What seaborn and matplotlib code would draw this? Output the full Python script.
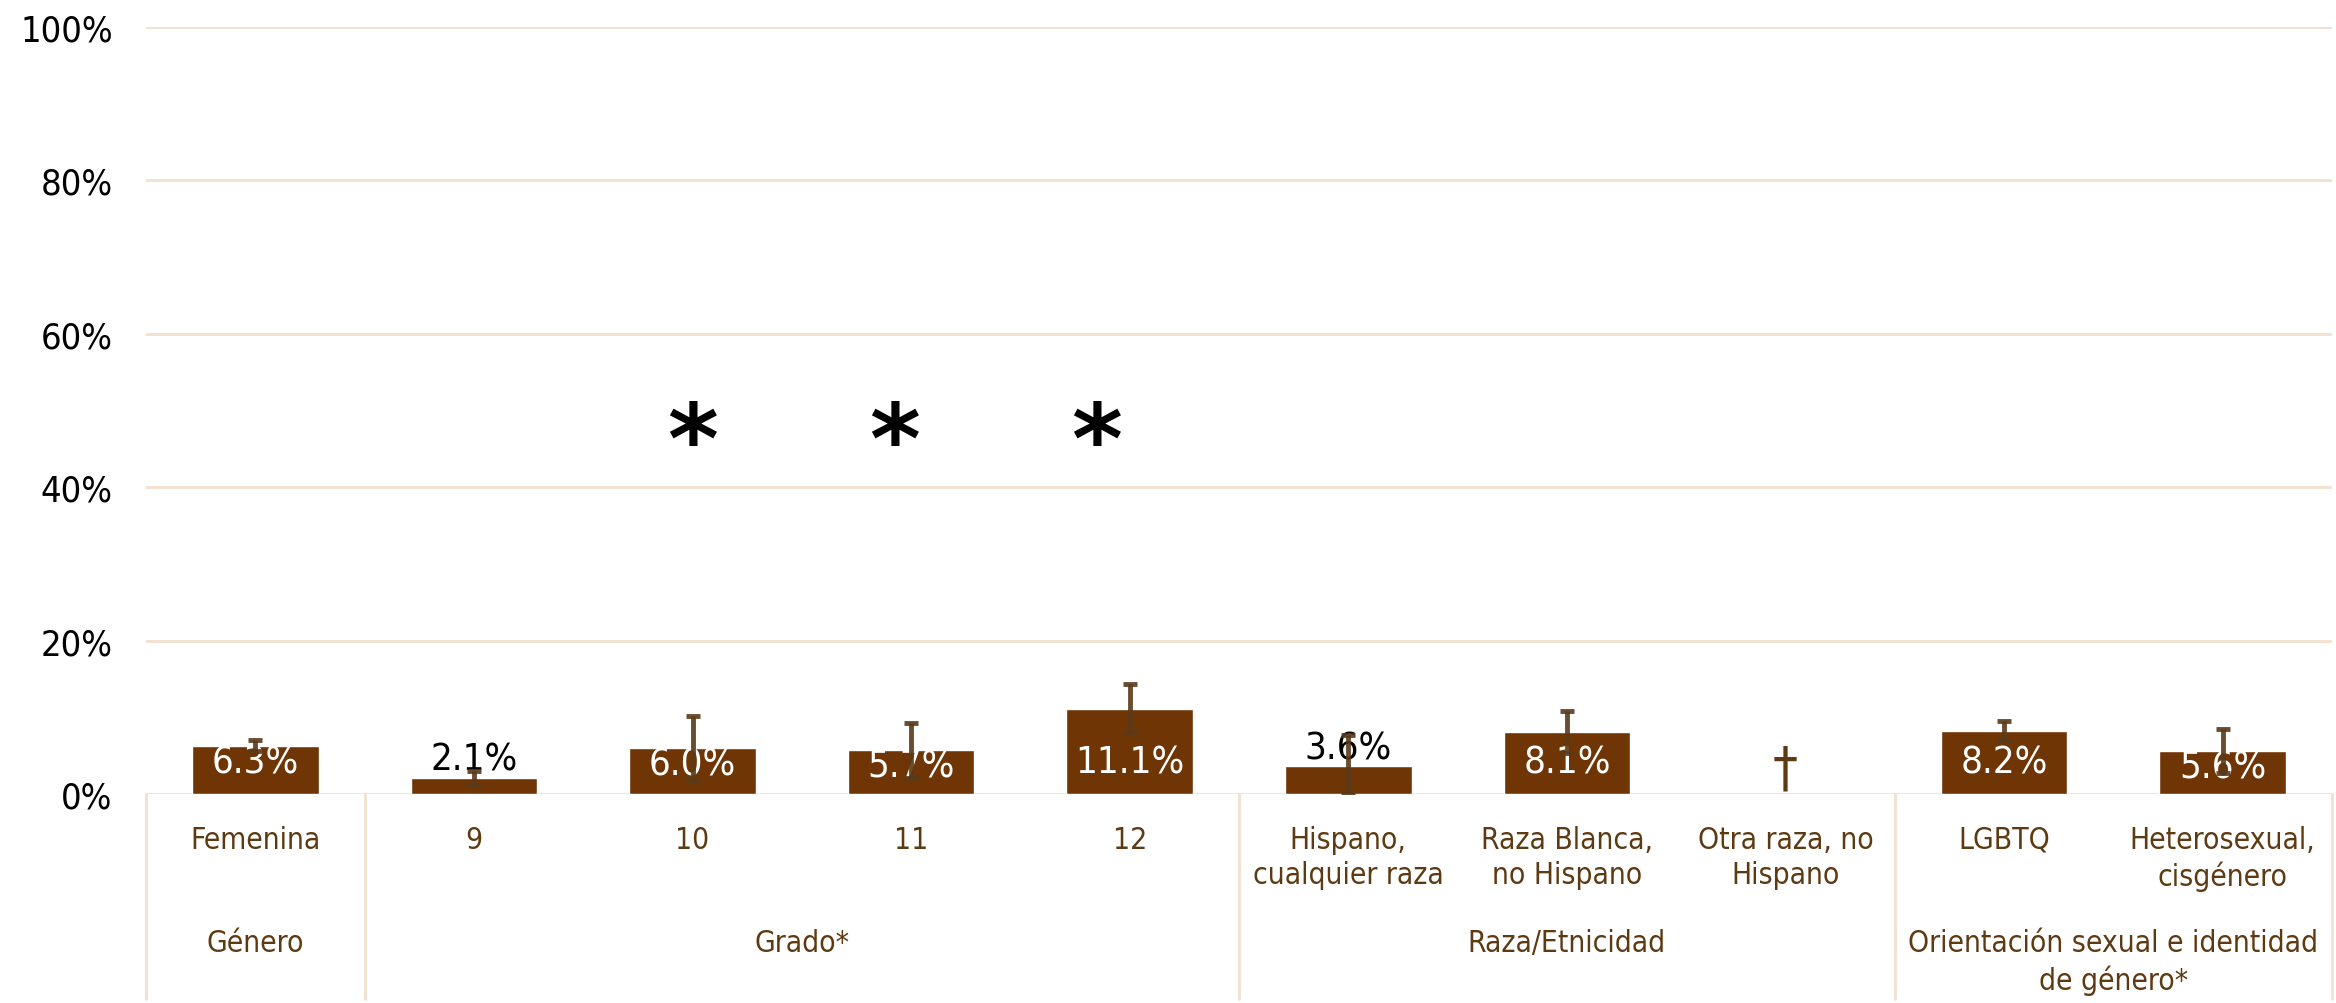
import pandas as pd
import seaborn as sns
import matplotlib
matplotlib.use('Agg')
import matplotlib.pyplot as plt
import matplotlib.transforms as mtransforms
import numpy as np

# data
categories = ['Femenina', '9', '10', '11', '12',
              'Hispano,\ncualquier raza', 'Raza Blanca,\nno Hispano', 'Otra raza, no\nHispano',
              'LGBTQ', 'Heterosexual,\ncisgénero']
values = [6.3, 2.1, 6.0, 5.7, 11.1, 3.6, 8.1, np.nan, 8.2, 5.6]
ci_low = [5.6, 1.2, 1.8, 2.1, 7.9, 0.0, 5.4, np.nan, 6.9, 2.7]
ci_high = [7.0, 3.0, 10.2, 9.3, 14.3, 7.7, 10.8, np.nan, 9.5, 8.5]
value_labels = ['6.3%', '2.1%', '6.0%', '5.7%', '11.1%', '3.6%', '8.1%', '', '8.2%', '5.6%']
sig_marks = ['', '', '*', '*', '*', '', '', '', '', '']
suppressed = ['', '', '', '', '', '', '', '†', '', '']
groups = ['Género', 'Grado*', 'Raza/Etnicidad', 'Orientación sexual e identidad\nde género*']
group_sizes = [1, 4, 3, 2]
yticks = [0, 20, 40, 60, 80, 100]

BAR = '#6F3504'
ERR = '#5A3A1A'
TXT = '#5E3A12'
GRID = '#F3E0CE'

sns.set_style('white')
plt.rcParams['font.family'] = ['DejaVu Sans']
plt.rcParams['font.stretch'] = 'condensed'

df = pd.DataFrame({'cat': categories, 'val': values})

fig = plt.figure(figsize=(23.36, 10.04), dpi=100)
ax = fig.add_axes([146 / 2336, 1 - 795 / 1004, (2332 - 146) / 2336, (795 - 28) / 1004])

sns.barplot(data=df, x='cat', y='val', order=categories, color=BAR, saturation=1,
            width=0.58, errorbar=None, ax=ax, zorder=2)

x = np.arange(len(categories))
vals = np.array(values)
yerr = np.array([vals - np.array(ci_low), np.array(ci_high) - vals])
ax.errorbar(x, vals, yerr=yerr, fmt='none', ecolor=ERR, elinewidth=3.5,
            capsize=5, capthick=3.5, zorder=4, alpha=0.9)

# value labels
for i, (v, lab) in enumerate(zip(values, value_labels)):
    if not lab:
        continue
    if v >= 5:
        ax.text(i, min(v - 2.1, 4.1), lab, ha='center', va='center', color='white',
                fontsize=27.5, zorder=3)
    else:
        ax.text(i, v, lab, ha='center', va='bottom', color='black', fontsize=27.5, zorder=3)

# significance marks sit slightly left of the bar centres in the original
sig_shift = 0.075
k = 0
for i, m in enumerate(sig_marks):
    if m:
        ax.text(i - sig_shift * k, 42.0, m, ha='center', va='baseline', fontsize=70,
                fontweight='bold', color='black', fontstretch='normal')
        k += 1

for i, s in enumerate(suppressed):
    if s:
        ax.text(i, 1.2, s, ha='center', va='baseline', fontsize=40, color=TXT)

ax.set_ylim(0, 100)
ax.set_xlim(-0.5, len(categories) - 0.5)
ax.set_yticks(yticks)
ax.set_yticklabels([f'{t}%' for t in yticks], fontsize=26, color='black')
ax.set_xticks(x)
ax.set_xticklabels(categories, fontsize=21.5, color=TXT, linespacing=1.3)
ax.tick_params(axis='both', length=0)
ax.tick_params(axis='y', pad=24)
ax.tick_params(axis='x', pad=22)
ax.set_xlabel('')
ax.set_ylabel('')
for sp in ax.spines.values():
    sp.set_visible(False)
ax.yaxis.grid(True, color=GRID, lw=2)
ax.xaxis.grid(False)
ax.set_axisbelow(True)

# group separators and group labels
trans = mtransforms.blended_transform_factory(ax.transData, ax.transAxes)
bounds = np.concatenate([[0], np.cumsum(group_sizes)]) - 0.5
for b in bounds:
    ax.plot([b, b], [0, -0.267], color=GRID, lw=2, transform=trans, clip_on=False)
for g, lo, hi in zip(groups, bounds[:-1], bounds[1:]):
    ax.text((lo + hi) / 2, -0.175, g, ha='center', va='top', fontsize=21.5, color=TXT,
            transform=trans, linespacing=1.3)

plt.savefig('out.png', dpi=100)
